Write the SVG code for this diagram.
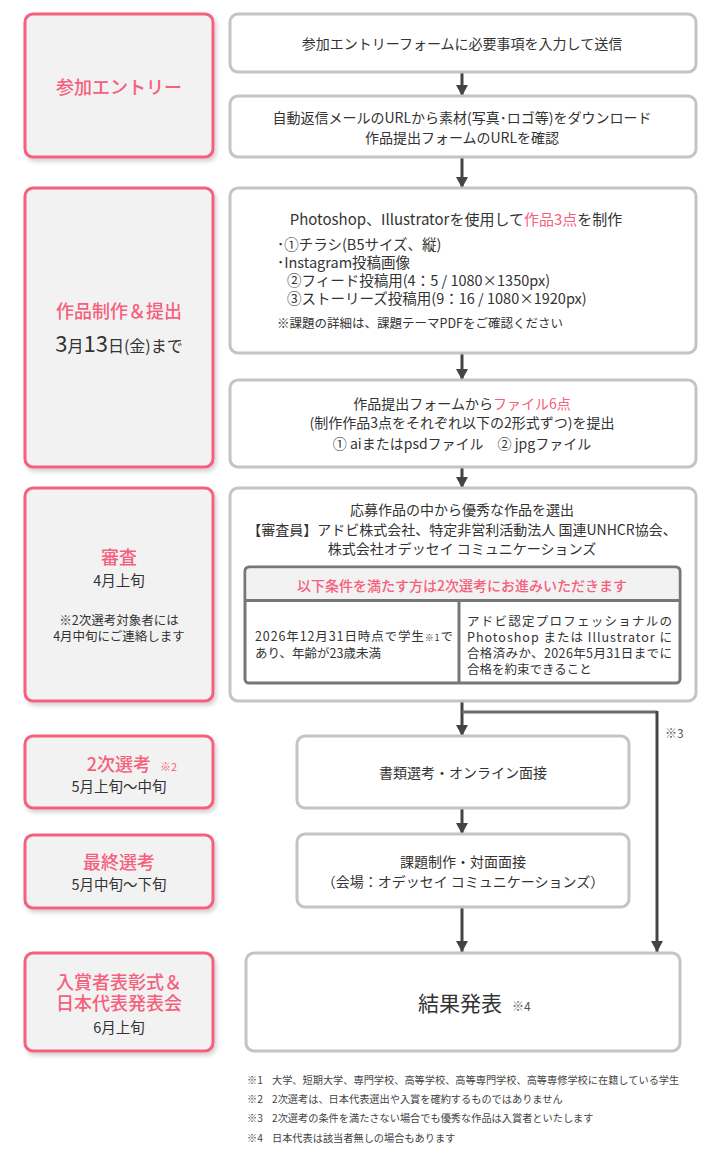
<svg xmlns="http://www.w3.org/2000/svg" width="720" height="1155" viewBox="0 0 720 1155">
<style>
text{font-family:"Noto Sans CJK JP","Noto Sans",sans-serif;fill:#333;}
.phase{fill:#f2f2f2;stroke:#f5607c;stroke-width:3;}
.step{fill:#fff;stroke:#c4c4c4;stroke-width:3;}
.ttl{fill:#f5607c;font-size:18px;font-weight:500;}
.pk{fill:#f5607c;}
.m{font-size:14px;}
.c{text-anchor:middle;}
.sub{font-size:14.5px;}
.sm{font-size:12.5px;}
.cell{font-size:12.5px;}
.note{font-size:10.2px;fill:#444;}
.arr{stroke:#444;stroke-width:3;fill:none;}
</style>
<defs>
<filter id="sh" x="-10%" y="-10%" width="130%" height="130%">
<feDropShadow dx="2" dy="3" stdDeviation="2" flood-color="#000" flood-opacity="0.18"/>
</filter>
<marker id="ah" markerUnits="userSpaceOnUse" markerWidth="12" markerHeight="12" refX="11" refY="6" orient="auto">
<path d="M0,0 L11,6 L0,12 z" fill="#444"/>
</marker>
</defs>

<g id="connectors">
<line class="arr" x1="462" y1="72" x2="462" y2="96" marker-end="url(#ah)"/>
<line class="arr" x1="462" y1="157" x2="462" y2="188" marker-end="url(#ah)"/>
<line class="arr" x1="462" y1="353" x2="462" y2="380" marker-end="url(#ah)"/>
<line class="arr" x1="462" y1="467" x2="462" y2="488" marker-end="url(#ah)"/>
<line class="arr" x1="462" y1="702" x2="462" y2="736" marker-end="url(#ah)"/>
<path d="M462,712 H657" stroke="#6b6b6b" stroke-width="3" fill="none"/>
<path class="arr" d="M657,711 V952" marker-end="url(#ah)"/>
<text x="665" y="738" style="font-size:12px;fill:#555">※3</text>
<line class="arr" x1="462" y1="808" x2="462" y2="834" marker-end="url(#ah)"/>
<line class="arr" x1="462" y1="907" x2="462" y2="952" marker-end="url(#ah)"/>
</g>

<g id="phase-entry">
<rect class="phase" x="25" y="14" width="188" height="143" rx="8" filter="url(#sh)"/>
<text class="ttl c" x="119" y="94">参加エントリー</text>
</g>
<g id="step-form">
<rect class="step" x="230" y="14" width="466" height="58" rx="8"/>
<text class="m c" x="462" y="49">参加エントリーフォームに必要事項を入力して送信</text>
</g>
<g id="step-download">
<rect class="step" x="230" y="96" width="466" height="61" rx="8"/>
<text class="m c" x="462" y="123">自動返信メールのURLから素材(写真･ロゴ等)をダウンロード</text>
<text class="m c" x="462" y="143">作品提出フォームのURLを確認</text>
</g>

<g id="phase-production">
<rect class="phase" x="25" y="188" width="188" height="279" rx="8" filter="url(#sh)"/>
<text class="ttl c" x="119" y="318">作品制作＆提出</text>
<text class="c" x="119" y="352"><tspan style="font-size:22px">3</tspan><tspan style="font-size:16px">月</tspan><tspan style="font-size:22px">13</tspan><tspan style="font-size:16px">日(金)まで</tspan></text>
</g>
<g id="step-create">
<rect class="step" x="230" y="188" width="466" height="165" rx="8"/>
<text class="c" x="456" y="225" style="font-size:15px">Photoshop、Illustratorを使用して<tspan class="pk">作品3点</tspan>を制作</text>
<text class="sub" x="277" y="250">･①チラシ(B5サイズ、縦)</text>
<text class="sub" x="277" y="268">･Instagram投稿画像</text>
<text class="sub" x="287" y="286">②フィード投稿用(4：5 / 1080×1350px)</text>
<text class="sub" x="287" y="304">③ストーリーズ投稿用(9：16 / 1080×1920px)</text>
<text class="sm" x="277" y="328">※課題の詳細は、課題テーマPDFをご確認ください</text>
</g>
<g id="step-submit">
<rect class="step" x="230" y="380" width="466" height="87" rx="8"/>
<text class="m c" x="462" y="409">作品提出フォームから<tspan class="pk">ファイル6点</tspan></text>
<text class="m c" x="462" y="428">(制作作品3点をそれぞれ以下の2形式ずつ)を提出</text>
<text class="m c" x="462" y="449">① aiまたはpsdファイル　② jpgファイル</text>
</g>

<g id="phase-review">
<rect class="phase" x="25" y="488" width="188" height="213" rx="8" filter="url(#sh)"/>
<text class="ttl c" x="119" y="564">審査</text>
<text class="c" x="119" y="586" style="font-size:14.5px">4月上旬</text>
<text class="c" x="119" y="625" style="font-size:12.5px">※2次選考対象者には</text>
<text class="c" x="119" y="641" style="font-size:12.5px">4月中旬にご連絡します</text>
</g>
<g id="step-review">
<rect class="step" x="230" y="488" width="466" height="213" rx="8"/>
<text class="m c" x="462" y="515">応募作品の中から優秀な作品を選出</text>
<text class="m c" x="462" y="535">【審査員】アドビ株式会社、特定非営利活動法人 国連UNHCR協会、</text>
<text class="m c" x="462" y="554">株式会社オデッセイ コミュニケーションズ</text>
<g id="conditions">
<rect x="245" y="567" width="435" height="116" rx="4" fill="#fff" stroke="#777" stroke-width="3"/>
<path d="M246.5,600.5 V572 a3.5,3.5 0 0 1 3.5,-3.5 H675 a3.5,3.5 0 0 1 3.5,3.5 V600.5 z" fill="#f2f2f2"/>
<line x1="245" y1="600.5" x2="680" y2="600.5" stroke="#777" stroke-width="3"/>
<line x1="459" y1="600" x2="459" y2="683" stroke="#777" stroke-width="3"/>
<text class="pk c" x="462" y="591" style="font-size:14px;font-weight:500">以下条件を満たす方は2次選考にお進みいただきます</text>
<text class="cell" x="255" y="641" textLength="198" lengthAdjust="spacing">2026年12月31日時点で学生<tspan style="font-size:9px">※1</tspan>で</text>
<text class="cell" x="255" y="658">あり、年齢が23歳未満</text>
<text class="cell" x="467" y="626" textLength="205" lengthAdjust="spacing">アドビ認定プロフェッショナルの</text>
<text class="cell" x="467" y="642" textLength="205" lengthAdjust="spacing">Photoshop または Illustrator に</text>
<text class="cell" x="467" y="658" textLength="205" lengthAdjust="spacing">合格済みか、2026年5月31日までに</text>
<text class="cell" x="467" y="674">合格を約束できること</text>
</g>
</g>

<g id="phase-second">
<rect class="phase" x="25" y="736" width="188" height="72" rx="8" filter="url(#sh)"/>
<text class="ttl c" x="119" y="771">2次選考</text>
<text class="pk" x="160" y="771" style="font-size:11px">※2</text>
<text class="c" x="119" y="792" style="font-size:14.5px">5月上旬〜中旬</text>
</g>
<g id="step-second">
<rect class="step" x="297" y="736" width="332" height="72" rx="8"/>
<text class="m c" x="463" y="778">書類選考・オンライン面接</text>
</g>

<g id="phase-final">
<rect class="phase" x="25" y="835" width="188" height="73" rx="8" filter="url(#sh)"/>
<text class="ttl c" x="119" y="869">最終選考</text>
<text class="c" x="119" y="890" style="font-size:14.5px">5月中旬〜下旬</text>
</g>
<g id="step-final">
<rect class="step" x="297" y="834" width="332" height="73" rx="8"/>
<text class="m c" x="463" y="867">課題制作・対面面接</text>
<text class="m c" x="463" y="887">（会場：オデッセイ コミュニケーションズ）</text>
</g>

<g id="phase-award">
<rect class="phase" x="25" y="953" width="188" height="98" rx="8" filter="url(#sh)"/>
<text class="ttl c" x="119" y="989">入賞者表彰式＆</text>
<text class="ttl c" x="119" y="1010">日本代表発表会</text>
<text class="c" x="119" y="1033" style="font-size:14.5px">6月上旬</text>
</g>
<g id="step-result">
<rect class="step" x="246" y="953" width="434" height="98" rx="8"/>
<text x="418" y="1011" style="font-size:21px">結果発表</text>
<text x="512" y="1011" style="font-size:12px;fill:#555">※4</text>
</g>

<g id="notes">
<text class="note" x="247" y="1084">※1</text><text class="note" x="272" y="1084">大学、短期大学、専門学校、高等学校、高等専門学校、高等専修学校に在籍している学生</text>
<text class="note" x="247" y="1103">※2</text><text class="note" x="272" y="1103">2次選考は、日本代表選出や入賞を確約するものではありません</text>
<text class="note" x="247" y="1122">※3</text><text class="note" x="272" y="1122">2次選考の条件を満たさない場合でも優秀な作品は入賞者といたします</text>
<text class="note" x="247" y="1142">※4</text><text class="note" x="272" y="1142">日本代表は該当者無しの場合もあります</text>
</g>
</svg>
